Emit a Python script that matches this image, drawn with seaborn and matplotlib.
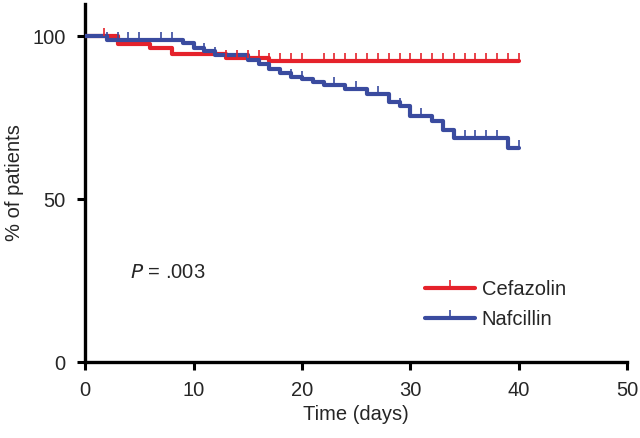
import numpy as np
import pandas as pd
import matplotlib
matplotlib.use("Agg")
import matplotlib.pyplot as plt
import seaborn as sns
from matplotlib.lines import Line2D

# step curves (time in days, % of patients)
cef_time = [0, 3, 6, 8, 13, 17, 40]
cef_surv = [100, 97.6, 96.4, 94.4, 93.3, 92.3, 92.3]
naf_time = [0, 2, 9, 10, 11, 12, 15, 16, 17, 18, 19, 20, 21, 22, 24, 26, 28, 29, 30, 32, 33, 34, 39, 40]
naf_surv = [100, 98.9, 97.8, 96.3, 95.3, 94.3, 92.6, 91.5, 89.8, 88.6, 87.6, 86.8, 86.0, 85.1,
            83.9, 82.1, 79.9, 78.7, 75.5, 74.0, 71.3, 68.6, 65.6, 65.6]

# censored observations
cef_cens = [1.7, 8, 13, 14, 15, 16, 17, 18, 19, 20, 22, 23, 24, 25, 26, 27, 28, 29, 30,
            31, 32, 33, 34, 35, 36, 37, 38, 39, 40]
naf_cens = [2, 3, 4, 5, 7, 8, 11, 12, 19, 20, 23, 25, 27, 29, 31, 35, 36, 37, 38, 40]

groups = ["Cefazolin", "Nafcillin"]
colors = {"Cefazolin": "#E5222B", "Nafcillin": "#3A4B9F"}

sns.set_style("ticks")
plt.rcParams['font.family'] = ['Liberation Sans', 'DejaVu Sans']

df = pd.concat([
    pd.DataFrame({"Time": cef_time, "Surv": cef_surv, "Group": "Cefazolin"}),
    pd.DataFrame({"Time": naf_time, "Surv": naf_surv, "Group": "Nafcillin"}),
])

fig = plt.figure(figsize=(6.4, 4.38), dpi=100)
ax = fig.add_axes([0.133, 0.1735, 0.847, 0.8185])

sns.lineplot(data=df, x="Time", y="Surv", hue="Group", palette=colors,
             estimator=None, drawstyle="steps-post", linewidth=3,
             legend=False, ax=ax, zorder=3)

# little upward ticks for censored patients
tick = [(0, 0), (0, 1)]

def step_value(t, times, surv):
    i = np.searchsorted(times, t, side="right") - 1
    return np.array(surv)[i]

for name, times, surv, cens in [("Cefazolin", cef_time, cef_surv, cef_cens),
                                ("Nafcillin", naf_time, naf_surv, naf_cens)]:
    ax.plot(cens, step_value(cens, times, surv), linestyle="none", marker=tick,
            markersize=11, markeredgewidth=1.2, color=colors[name], zorder=4)

ax.text(4.1, 27.6, "$P$ = .003", fontsize=14.5, va="center")

handles = [Line2D([], [], color=colors[g], linewidth=3, marker=tick, markersize=11,
                  markeredgewidth=1.2) for g in groups]
ax.legend(handles, groups, loc="lower right", bbox_to_anchor=(0.905, 0.065), frameon=False,
          fontsize=14.5, handlelength=2.5, handletextpad=0.3, labelspacing=0.55,
          borderpad=0)

ax.set_xlim(0, 50)
ax.set_ylim(0, 110)
ax.set_xticks([0, 10, 20, 30, 40, 50])
ax.set_yticks([0, 50, 100])
ax.set_xlabel("Time (days)", fontsize=14.5, labelpad=3)
ax.set_ylabel("% of patients", fontsize=14.5, labelpad=6)
ax.tick_params(axis="both", labelsize=14.5, length=6, width=2.2, pad=8, color="black")
for s in ["left", "bottom"]:
    ax.spines[s].set_linewidth(2.4)
    ax.spines[s].set_color("black")
    ax.spines[s].set_clip_on(False)
ax.spines["top"].set_visible(False)
ax.spines["right"].set_visible(False)

fig.savefig("out.png", dpi=100)
